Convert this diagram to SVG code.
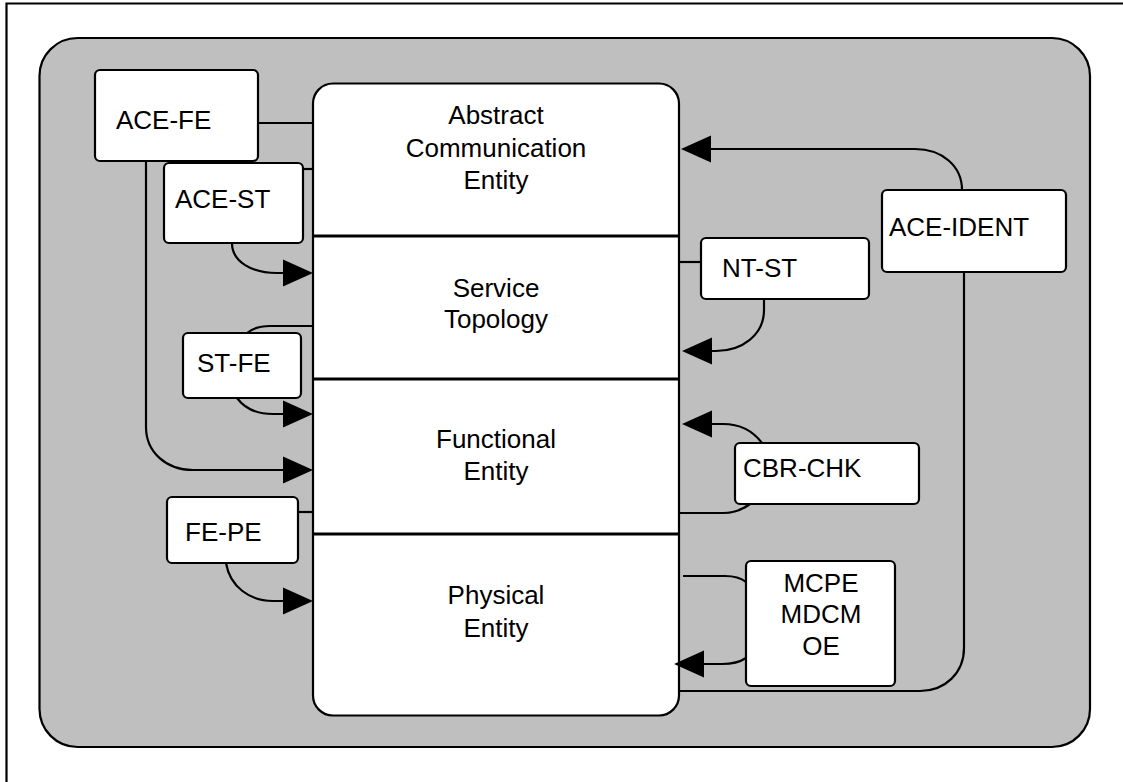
<svg xmlns="http://www.w3.org/2000/svg" width="1123" height="782" viewBox="0 0 1123 782">
  <style>
    .txt { font-family: "Liberation Sans", Arial, Helvetica, sans-serif; font-size: 26px; fill: #000; }
    .mid { text-anchor: middle; }
    .box { fill: #fff; stroke: #000; stroke-width: 2.2; }
    .conn { fill: none; stroke: #000; stroke-width: 2.2; }
    .div { stroke: #000; stroke-width: 3; }
  </style>
  <defs>
    <marker id="arrow" markerUnits="userSpaceOnUse" markerWidth="31" markerHeight="28" refX="0" refY="13.5" orient="auto" overflow="visible">
      <path d="M0,0 L30,13.5 L0,27 Z" fill="#000"/>
    </marker>
  </defs>

  <g id="frame">
    <path d="M6.5,782 L6.5,3.5 L1123,3.5" fill="none" stroke="#000" stroke-width="2.2"/>
  </g>

  <g id="background">
    <rect x="39.5" y="38" width="1050.5" height="709" rx="38" ry="38" fill="#bfbfbf" stroke="#000" stroke-width="2.2"/>
  </g>

  <g id="main-stack">
    <rect class="box" x="313" y="83.5" width="366" height="632" rx="20" ry="20"/>
    <line class="div" x1="313" y1="236" x2="679" y2="236"/>
    <line class="div" x1="313" y1="379" x2="679" y2="379"/>
    <line class="div" x1="313" y1="534" x2="679" y2="534"/>
    <g id="ace">
      <text class="txt mid" x="496" y="124">Abstract</text>
      <text class="txt mid" x="496" y="157">Communication</text>
      <text class="txt mid" x="496" y="189">Entity</text>
    </g>
    <g id="st">
      <text class="txt mid" x="496" y="297">Service</text>
      <text class="txt mid" x="496" y="328">Topology</text>
    </g>
    <g id="fe">
      <text class="txt mid" x="496" y="448">Functional</text>
      <text class="txt mid" x="496" y="480">Entity</text>
    </g>
    <g id="pe">
      <text class="txt mid" x="496" y="604">Physical</text>
      <text class="txt mid" x="496" y="637">Entity</text>
    </g>
  </g>

  <g id="connectors">
    <path class="conn" d="M258,123 L313,123"/>
    <path class="conn" d="M303,169 L313,169"/>
    <path class="conn" marker-end="url(#arrow)" d="M232,243 C232,262 252,273 277,273 L283,273"/>
    <path class="conn" marker-end="url(#arrow)" d="M146,161 L146,427 C146,452 166,470 193,470 L283,470"/>
    <path class="conn" d="M247,333 C253,328 260,326 270,326 L313,326"/>
    <path class="conn" marker-end="url(#arrow)" d="M237,398 C245,409 257,414 273,414 L283,414"/>
    <path class="conn" d="M298,512 L313,512"/>
    <path class="conn" marker-end="url(#arrow)" d="M226,563 C230,587 250,601 273,601 L283,601"/>
    <path class="conn" marker-end="url(#arrow)" d="M962,190 C962,166 942,149 915,149 L711,149"/>
    <path class="conn" d="M679,262 L701,262"/>
    <path class="conn" marker-end="url(#arrow)" d="M764,299 L764,310 C764,335 742,351 716,351 L712,351"/>
    <path class="conn" marker-end="url(#arrow)" d="M762,443 C753,431 740,424 723,424 L712,424"/>
    <path class="conn" d="M750,504 C742,510 733,513 723,513 L679,513"/>
    <path class="conn" d="M683,576 L725,576 C735,576 741,578 746,582"/>
    <path class="conn" marker-end="url(#arrow)" d="M746,658 C740,662 732,664 722,664 L704,664"/>
    <path class="conn" d="M964,272 L964,648 C964,673 945,691 920,691 L679,691"/>
  </g>

  <g id="ACE-FE">
    <rect class="box" x="95" y="70" width="163" height="91" rx="5" ry="5"/>
    <text class="txt" x="116" y="129">ACE-FE</text>
  </g>
  <g id="ACE-ST">
    <rect class="box" x="164" y="163" width="139" height="80" rx="5" ry="5"/>
    <text class="txt" x="175" y="208">ACE-ST</text>
  </g>
  <g id="ST-FE">
    <rect class="box" x="183" y="333" width="118" height="65" rx="5" ry="5"/>
    <text class="txt" x="197" y="372">ST-FE</text>
  </g>
  <g id="FE-PE">
    <rect class="box" x="167" y="497" width="131" height="66" rx="5" ry="5"/>
    <text class="txt" x="185" y="541">FE-PE</text>
  </g>
  <g id="ACE-IDENT">
    <rect class="box" x="882" y="190" width="184" height="82" rx="5" ry="5"/>
    <text class="txt" x="889" y="236">ACE-IDENT</text>
  </g>
  <g id="NT-ST">
    <rect class="box" x="701" y="238" width="168" height="61" rx="5" ry="5"/>
    <text class="txt" x="722" y="277">NT-ST</text>
  </g>
  <g id="CBR-CHK">
    <rect class="box" x="735" y="443" width="184" height="61" rx="5" ry="5"/>
    <text class="txt" x="743" y="477">CBR-CHK</text>
  </g>
  <g id="MCPE-MDCM-OE">
    <rect class="box" x="746" y="561" width="149" height="125" rx="5" ry="5"/>
    <text class="txt mid" x="821" y="592">MCPE</text>
    <text class="txt mid" x="821" y="623">MDCM</text>
    <text class="txt mid" x="821" y="655">OE</text>
  </g>
</svg>
